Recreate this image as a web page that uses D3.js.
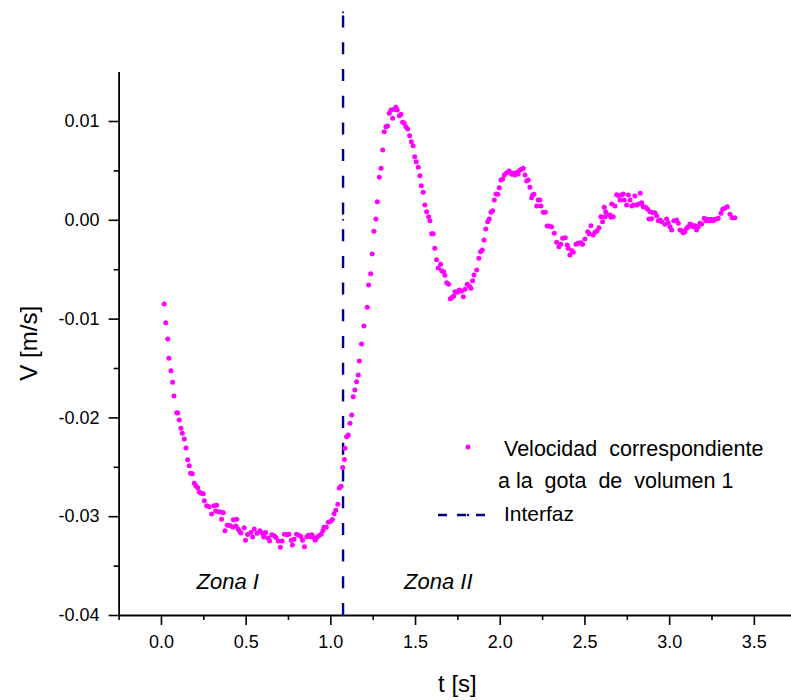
<!DOCTYPE html>
<html>
<head>
<meta charset="utf-8">
<script src="https://cdn.jsdelivr.net/npm/d3@7"></script>
<style>
  html, body { margin: 0; padding: 0; background: #fff; }
  svg { display: block; }
  text { font-family: "Liberation Sans", Arial, sans-serif; fill: #000; }
</style>
</head>
<body>
<svg id="chart" width="791" height="700"></svg>
<script>
// Drop velocity (m/s) against time (s)
const velTime = [
  0.019,0.028,0.040,0.047,0.059,0.069,0.077,0.093,0.099,0.108,0.118,0.126,0.138,0.148,0.158,0.167,0.175,0.185,0.197,0.207,
  0.217,0.226,0.236,0.250,0.256,0.270,0.285,0.299,0.313,0.323,0.329,0.341,0.354,0.358,0.368,0.378,0.391,0.407,0.423,0.427,
  0.443,0.447,0.456,0.466,0.472,0.491,0.499,0.511,0.531,0.541,0.551,0.567,0.584,0.594,0.604,0.608,0.618,0.634,0.642,0.654,
  0.668,0.679,0.693,0.705,0.715,0.729,0.743,0.756,0.770,0.776,0.786,0.800,0.814,0.826,0.836,0.847,0.861,0.871,0.881,0.891,
  0.901,0.911,0.921,0.932,0.946,0.956,0.962,0.976,0.988,1.002,1.012,1.022,1.032,1.044,1.053,1.063,1.073,1.083,1.086,1.096,
  1.106,1.116,1.126,1.135,1.145,1.155,1.165,1.171,1.184,1.198,1.218,1.226,1.238,1.247,1.257,1.269,1.277,1.289,1.299,1.309,
  1.318,1.328,1.338,1.348,1.358,1.368,1.377,1.387,1.395,1.407,1.417,1.427,1.436,1.446,1.456,1.468,1.478,1.488,1.498,1.507,
  1.519,1.529,1.537,1.548,1.558,1.568,1.580,1.588,1.598,1.607,1.617,1.627,1.637,1.651,1.657,1.669,1.676,1.687,1.698,1.708,
  1.720,1.728,1.736,1.749,1.761,1.775,1.785,1.795,1.808,1.820,1.830,1.840,1.848,1.864,1.877,1.887,1.897,1.907,1.917,1.929,
  1.938,1.948,1.958,1.968,1.978,1.988,1.997,2.007,2.017,2.027,2.041,2.056,2.070,2.080,2.090,2.100,2.109,2.119,2.129,2.139,
  2.149,2.159,2.168,2.178,2.188,2.194,2.202,2.218,2.227,2.237,2.243,2.257,2.269,2.280,2.292,2.306,2.322,2.336,2.349,2.360,
  2.371,2.387,2.398,2.404,2.414,2.426,2.434,2.450,2.463,2.478,2.489,2.503,2.519,2.528,2.538,2.552,2.562,2.575,2.586,2.597,
  2.607,2.617,2.621,2.625,2.640,2.651,2.656,2.661,2.670,2.680,2.690,2.701,2.710,2.720,2.729,2.735,2.749,2.759,2.769,2.779,
  2.788,2.798,2.808,2.822,2.829,2.838,2.847,2.861,2.873,2.881,2.887,2.897,2.903,2.916,2.926,2.936,2.946,2.956,2.975,2.985,
  2.995,3.005,3.015,3.028,3.044,3.054,3.064,3.074,3.083,3.093,3.103,3.113,3.123,3.133,3.142,3.152,3.162,3.172,3.182,3.192,
  3.207,3.217,3.227,3.237,3.247,3.260,3.270,3.280,3.290,3.306,3.316,3.329,3.343,3.359,3.372,3.388
];
const velValue = [
  -0.00852,-0.01041,-0.01206,-0.01402,-0.01527,-0.01645,-0.01783,-0.01952,-0.01955,-0.02026,-0.02110,-0.02161,-0.02219,-0.02310,-0.02428,-0.02489,-0.02566,-0.02570,-0.02667,-0.02694,
  -0.02711,-0.02755,-0.02768,-0.02772,-0.02843,-0.02894,-0.02904,-0.02978,-0.02894,-0.02947,-0.02890,-0.02954,-0.02957,-0.03031,-0.02964,-0.03147,-0.03092,-0.03094,-0.03109,-0.03035,
  -0.03099,-0.03031,-0.03133,-0.03157,-0.03170,-0.03116,-0.03244,-0.03185,-0.03165,-0.03210,-0.03129,-0.03172,-0.03148,-0.03165,-0.03189,-0.03210,-0.03165,-0.03224,-0.03251,-0.03189,
  -0.03199,-0.03216,-0.03251,-0.03314,-0.03251,-0.03182,-0.03189,-0.03182,-0.03244,-0.03292,-0.03234,-0.03182,-0.03192,-0.03206,-0.03244,-0.03310,-0.03209,-0.03192,-0.03209,-0.03189,
  -0.03216,-0.03244,-0.03216,-0.03199,-0.03182,-0.03148,-0.03112,-0.03112,-0.03061,-0.03050,-0.03033,-0.02974,-0.02939,-0.02880,-0.02714,-0.02696,-0.02506,-0.02426,-0.02313,-0.02195,
  -0.02178,-0.02060,-0.01976,-0.01790,-0.01723,-0.01639,-0.01571,-0.01429,-0.01257,-0.01075,-0.00886,-0.00660,-0.00546,-0.00346,-0.00116,0.00008,0.00183,0.00430,0.00521,0.00706,
  0.00892,0.00942,0.00949,0.01078,0.01111,0.01027,0.01118,0.01139,0.01111,0.01054,0.01068,0.00987,0.00977,0.00942,0.00919,0.00851,0.00790,0.00750,0.00639,0.00588,
  0.00531,0.00446,0.00345,0.00278,0.00150,0.00082,0.00031,-0.00009,-0.00141,-0.00141,-0.00288,-0.00404,-0.00488,-0.00450,-0.00515,-0.00525,-0.00562,-0.00637,-0.00653,-0.00799,
  -0.00784,-0.00771,-0.00728,-0.00734,-0.00711,-0.00721,-0.00778,-0.00703,-0.00653,-0.00670,-0.00693,-0.00616,-0.00559,-0.00508,-0.00390,-0.00323,-0.00306,-0.00204,-0.00093,-0.00019,
  0.00008,0.00076,0.00092,0.00200,0.00261,0.00258,0.00325,0.00403,0.00413,0.00453,0.00477,0.00494,0.00461,0.00471,0.00453,0.00481,0.00464,0.00504,0.00511,0.00521,
  0.00453,0.00393,0.00403,0.00329,0.00224,0.00251,0.00258,0.00140,0.00200,0.00200,0.00140,0.00076,0.00076,-0.00063,-0.00063,-0.00070,-0.00137,-0.00228,-0.00272,-0.00248,
  -0.00187,-0.00181,-0.00255,-0.00288,-0.00356,-0.00313,-0.00329,-0.00248,-0.00238,-0.00232,-0.00248,-0.00194,-0.00120,-0.00141,-0.00060,-0.00154,-0.00127,-0.00110,-0.00080,0.00031,
  -0.00019,0.00127,0.00031,0.00082,0.00049,0.00049,0.00025,0.00160,0.00031,0.00140,0.00253,0.00246,0.00200,0.00251,0.00261,0.00200,0.00150,0.00251,0.00200,0.00140,
  0.00150,0.00241,0.00150,0.00160,0.00268,0.00173,0.00133,0.00127,0.00106,0.00008,0.00082,0.00011,0.00072,0.00072,0.00041,-0.00009,-0.00002,-0.00019,-0.00046,0.00008,
  -0.00029,-0.00070,-0.00103,-0.00009,-0.00002,-0.00035,-0.00103,-0.00110,-0.00131,-0.00120,-0.00086,-0.00070,-0.00043,-0.00053,-0.00070,-0.00060,-0.00103,-0.00070,-0.00035,-0.00043,
  0.00015,-0.00009,0.00005,-0.00009,0.00005,-0.00009,0.00005,0.00008,0.00015,0.00066,0.00106,0.00116,0.00133,0.00056,0.00021,0.00021
];

// Interface position (vertical dashed line)
const interfaceTime = [1.075, 1.075, 1.075];
const interfaceValue = [-0.04, 0.0, 0.021];

// Axis ticks and labels
const xTicks = [0, 0.5, 1.0, 1.5, 2.0, 2.5, 3.0, 3.5];
const xTickLabels = ["0.0", "0.5", "1.0", "1.5", "2.0", "2.5", "3.0", "3.5"];
const xMinorTicks = [-0.25, 0.25, 0.75, 1.25, 1.75, 2.25, 2.75, 3.25, 3.75];
const yTicks = [-0.04, -0.03, -0.02, -0.01, 0.0, 0.01];
const yTickLabels = ["-0.04", "-0.03", "-0.02", "-0.01", "0.00", "0.01"];
const yMinorTicks = [-0.035, -0.025, -0.015, -0.005, 0.005];

const legendLabels = ["Velocidad  correspondiente", "a la  gota  de  volumen 1", "Interfaz"];
const zoneLabels = ["Zona I", "Zona II"];
const zoneLabelTime = [0.21, 1.435];

const svg = d3.select("#chart");

const x = d3.scaleLinear().domain([-0.25, 3.75]).range([118.6, 796.2]);
const y = d3.scaleLinear().domain([-0.04, 0.015]).range([615, 71.6]);

const axisColor = "#000";

// Bottom axis: major + minor ticks
svg.append("g").attr("transform", "translate(0,615)")
  .call(d3.axisBottom(x).tickValues(xTicks).tickSize(10).tickPadding(10).tickSizeOuter(0)
    .tickFormat((d, i) => xTickLabels[i]));
svg.append("g").attr("transform", "translate(0,615)")
  .call(d3.axisBottom(x).tickValues(xMinorTicks).tickSize(5).tickFormat("").tickSizeOuter(0))
  .select(".domain").remove();

// Left axis: major + minor ticks
svg.append("g").attr("transform", "translate(118.6,0)")
  .call(d3.axisLeft(y).tickValues(yTicks).tickSize(10).tickPadding(9).tickSizeOuter(0)
    .tickFormat((d, i) => yTickLabels[i]));
svg.append("g").attr("transform", "translate(118.6,0)")
  .call(d3.axisLeft(y).tickValues(yMinorTicks).tickSize(5).tickFormat("").tickSizeOuter(0))
  .select(".domain").remove();

svg.selectAll(".domain").attr("stroke", axisColor).attr("stroke-width", 1.8);
svg.selectAll(".tick line").attr("stroke", axisColor).attr("stroke-width", 1.6);
svg.selectAll(".tick text").attr("font-family", "'Liberation Sans', Arial, sans-serif")
  .attr("font-size", 18).attr("fill", "#000");

// Axis titles
svg.append("text")
  .attr("x", x(1.75)).attr("y", 692)
  .attr("text-anchor", "middle").attr("font-size", 24)
  .text("t [s]");
svg.append("text")
  .attr("transform", `translate(37,${y(-0.0125)}) rotate(-90)`)
  .attr("text-anchor", "middle").attr("font-size", 24)
  .text("V [m/s]");

// Interface line
const interfacePts = interfaceTime.map((t, i) => [t, interfaceValue[i]]);
svg.append("path")
  .datum(interfacePts)
  .attr("d", d3.line().x(d => x(d[0])).y(d => y(d[1])))
  .attr("fill", "none").attr("stroke", "#000080").attr("stroke-width", 2.4)
  .attr("stroke-dasharray", "12,14.7");
svg.selectAll("circle.iface").data(interfacePts).join("circle")
  .attr("class", "iface")
  .attr("cx", d => x(d[0])).attr("cy", d => y(d[1])).attr("r", 1)
  .attr("fill", "#0000ff");

// Velocity scatter
const velPts = velTime.map((t, i) => [t, velValue[i]]);
svg.selectAll("circle.vel").data(velPts).join("circle")
  .attr("class", "vel")
  .attr("cx", d => x(d[0])).attr("cy", d => y(d[1])).attr("r", 2.5)
  .attr("fill", "#ff00ff");

// Zone labels
svg.selectAll("text.zone").data(zoneLabels).join("text")
  .attr("class", "zone")
  .attr("x", (d, i) => x(zoneLabelTime[i])).attr("y", 589)
  .attr("font-size", 22).attr("font-style", "italic")
  .text(d => d);

// Legend
const legend = svg.append("g");
legend.append("circle").attr("cx", 468).attr("cy", 447).attr("r", 2.5).attr("fill", "#ff00ff");
legend.append("text").attr("x", 504).attr("y", 456).attr("font-size", 21.5)
  .attr("xml:space", "preserve").style("white-space", "pre").text(legendLabels[0]);
legend.append("text").attr("x", 498).attr("y", 488).attr("font-size", 21.5)
  .attr("xml:space", "preserve").style("white-space", "pre").text(legendLabels[1]);
legend.append("line").attr("x1", 438).attr("x2", 486).attr("y1", 515).attr("y2", 515)
  .attr("stroke", "#000080").attr("stroke-width", 2.4).attr("stroke-dasharray", "9,10");
legend.append("circle").attr("cx", 468).attr("cy", 515).attr("r", 1.3).attr("fill", "#0000ff");
legend.append("text").attr("x", 504).attr("y", 521).attr("font-size", 21).text(legendLabels[2]);
</script>
</body>
</html>
